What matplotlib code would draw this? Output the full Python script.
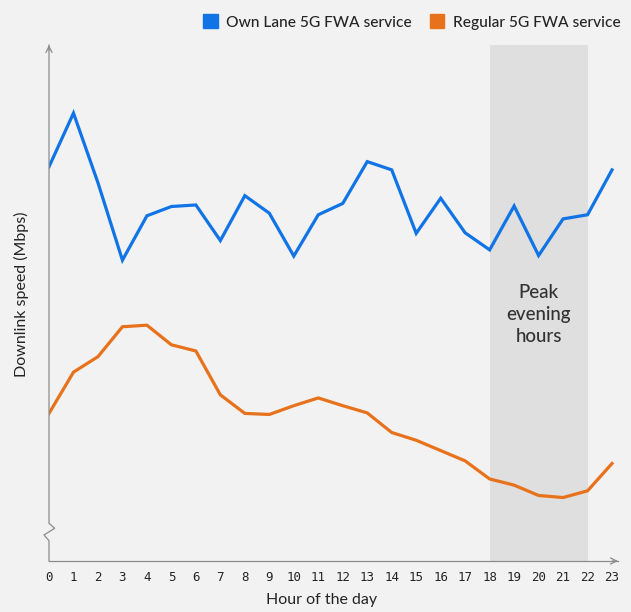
import matplotlib.pyplot as plt
from matplotlib.patches import Patch

plt.rcParams["font.family"] = ["Lato", "DejaVu Sans"]
plt.rcParams["font.weight"] = "medium"

hours = list(range(24))
own_lane = [76.4, 86.8, 73.3, 58.3, 66.9, 68.7, 69.0, 62.1, 70.8, 67.4, 59.1, 67.1,
            69.3, 77.4, 75.8, 63.5, 70.3, 63.6, 60.3, 68.8, 59.2, 66.3, 67.1, 75.8]
regular = [28.6, 36.6, 39.6, 45.4, 45.7, 41.9, 40.7, 32.2, 28.6, 28.4, 30.1, 31.6,
           30.1, 28.7, 24.9, 23.4, 21.4, 19.4, 15.9, 14.7, 12.7, 12.3, 13.6, 18.9]
peak_start, peak_end = 18, 22

BG = "#f2f2f2"
BLUE = "#1174e6"
ORANGE = "#e8711b"
AXIS = "#8c8c8c"
TEXT = "#242424"

fig = plt.figure(figsize=(6.31, 6.12), dpi=100, facecolor=BG)
ax = fig.add_axes([49 / 631, 1 - 561 / 612, 569 / 631, 516 / 612], facecolor=BG)

ax.axvspan(peak_start, peak_end, color="#dfdfdf", lw=0, zorder=0)
ax.plot(hours, own_lane, color=BLUE, lw=2.3, solid_joinstyle="miter", zorder=3)
ax.plot(hours, regular, color=ORANGE, lw=2.3, solid_joinstyle="miter", zorder=3)

ax.text((peak_start + peak_end) / 2, 47.7, "Peak\nevening\nhours", ha="center", va="center",
        fontsize=13.5, color="#333333", linespacing=1.35)

ax.set_xlim(0, 569 / 24.48)
ax.set_ylim(0, 100)
for s in ax.spines.values():
    s.set_visible(False)

# y axis with a break mark near the bottom, x axis plain
ax.plot([0, 0, -0.0088, 0.01, 0, 0], [0, 0.0393, 0.0504, 0.0634, 0.0731, 1.0],
        transform=ax.transAxes, color=AXIS, lw=0.9, clip_on=False, zorder=4)
ax.plot([0, 1.0], [0, 0], transform=ax.transAxes, color=AXIS, lw=0.9, clip_on=False, zorder=4)
arrow = dict(arrowstyle="->", color=AXIS, lw=0.9, mutation_scale=11, shrinkA=0, shrinkB=0)
ax.annotate("", xy=(0, 1), xytext=(0, 0.99), xycoords="axes fraction", arrowprops=arrow)
ax.annotate("", xy=(1, 0), xytext=(0.99, 0), xycoords="axes fraction", arrowprops=arrow)

ax.set_xticks(hours)
ax.set_xticklabels([str(h) for h in hours], family="DejaVu Sans Mono", fontsize=9,
                   color=TEXT)
ax.tick_params(axis="x", length=0, pad=7)
ax.set_yticks([])

ax.set_xlabel("Hour of the day", fontsize=11.5, color=TEXT)
ax.xaxis.set_label_coords((322 - 49) / 569, -(600 - 561) / 516)
ax.set_ylabel("Downlink speed (Mbps)", fontsize=11.5, color=TEXT)
ax.yaxis.set_label_coords(-(49 - 21) / 569, (561 - 294) / 516)
ax.xaxis.label.set_va("center")
ax.yaxis.label.set_va("center")

handles = [Patch(color=BLUE, label="Own Lane 5G FWA service"),
           Patch(color=ORANGE, label="Regular 5G FWA service")]
fig.legend(handles=handles, loc="center right", bbox_to_anchor=(627 / 631, 1 - 22 / 612), ncol=2,
           frameon=False, fontsize=11.2, handlelength=0.95, handleheight=0.95, handletextpad=0.55,
           columnspacing=1.15, borderaxespad=0, labelcolor=TEXT)

fig.savefig("out.png", dpi=100, facecolor=BG)
